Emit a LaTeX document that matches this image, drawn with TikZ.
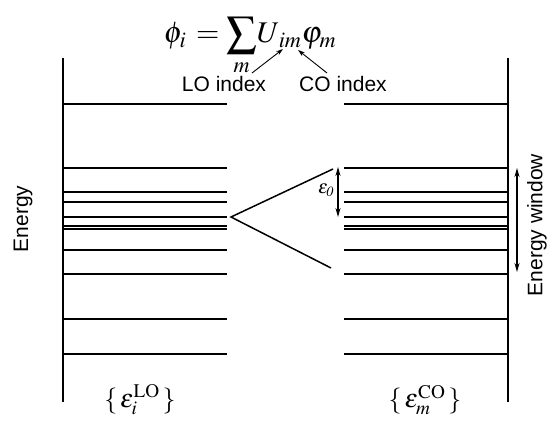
\documentclass[tikz,border=0pt]{standalone}
\usepackage{mathptmx}
\usepackage[no-math]{fontspec}
\setmainfont{Liberation Serif}
\setsansfont{Liberation Sans}
\usetikzlibrary{arrows.meta}
\tikzset{
  axisline/.style={line width=2.4pt},
  levelline/.style={line width=1.8pt},
  wedgeline/.style={line width=1.5pt},
  dblarrow/.style={line width=1.3pt,{Stealth[length=9pt,width=5pt]}-{Stealth[length=9pt,width=5pt]}},
  ptrarrow/.style={line width=0.9pt,-{Stealth[length=7pt,width=4.5pt]}},
  sanslabel/.style={font=\sffamily\fontsize{21}{24}\selectfont,inner sep=0pt},
}
\begin{document}
\begin{tikzpicture}[x=1pt,y=-1pt]
\useasboundingbox (0,0) rectangle (550,422);
% formula
\node[inner sep=0pt,anchor=base] (formula) at (250,43) {\fontsize{30}{34}\selectfont$\phi_i\,=\displaystyle\sum_m\!U_{\,im}\varphi_m$};
\coordinate (lotip) at (283,49);
\coordinate (cotip) at (298,50);
\node[sanslabel,anchor=base] (lo) at (224,92) {LO index};
\node[sanslabel,anchor=base] (co) at (343,92) {CO index};
\draw[ptrarrow] (252,73) coordinate (lofrom) -- (lotip);
\draw[ptrarrow] (327,73) coordinate (cofrom) -- (cotip);
% axes
\coordinate (lt) at (63,58); \coordinate (lb) at (63,402);
\coordinate (rt) at (508,58); \coordinate (rb) at (508,402);
\draw[axisline] (lt) -- (lb);
\draw[line width=2pt] (rt) -- (rb);
% levels
\foreach \y in {104,168,192,202,217,226,229,250,274,319,354}{
  \draw[levelline] (63,\y) -- (227,\y);
  \draw[levelline] (344,\y) -- (508,\y);
}
% wedge
\coordinate (apex) at (231,217);
\coordinate (wtop) at (333,169);
\coordinate (wbot) at (331,268);
\draw[wedgeline] (wtop) -- (apex) -- (wbot);
% epsilon0
\coordinate (e0t) at (338,167); \coordinate (e0b) at (338,217);
\draw[dblarrow] (e0t) -- (e0b);
\node[inner sep=0pt] (e0) at (326,190) {\fontsize{19}{21}\selectfont$\varepsilon_{\mathit{0}}$};
% energy window
\coordinate (ewt) at (517,168); \coordinate (ewb) at (517,272);
\draw[dblarrow] (ewt) -- (ewb);
\node[sanslabel,rotate=90] (ew) at (537,225) {Energy window};
\node[sanslabel,rotate=90] (en) at (23,219) {Energy};
% bottom labels
\node[inner sep=0pt] (elo) at (140,400) {\fontsize{26}{30}\selectfont$\{\,\varepsilon_i^{\mathrm{LO}}\,\}$};
\node[inner sep=0pt] (eco) at (425,400) {\fontsize{26}{30}\selectfont$\{\,\varepsilon_m^{\mathrm{CO}}\,\}$};
\end{tikzpicture}
\end{document}
